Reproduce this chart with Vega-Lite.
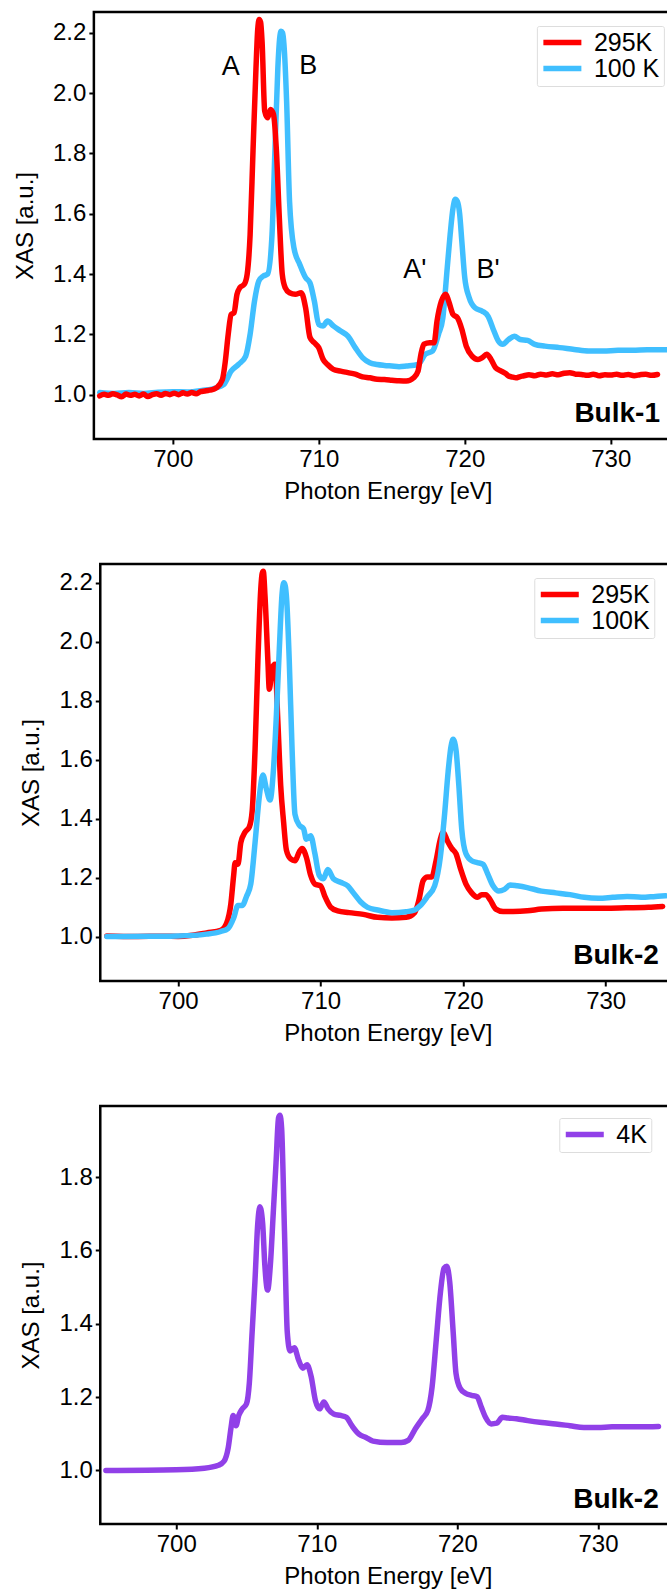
{
  "$schema": "https://vega.github.io/schema/vega-lite/v6.json",
  "padding": {"left": 11.5, "top": 10, "right": 0, "bottom": 0},
  "spacing": 57,
  "center": true,
  "resolve": {"scale": {"x": "independent", "y": "independent", "color": "independent"}},
  "config": {
    "font": "Liberation Sans",
    "view": {"stroke": "#000", "strokeWidth": 2.5},
    "axis": {
      "domain": false, "grid": false, "tickColor": "#000", "tickSize": 5, "tickWidth": 2,
      "labelFont": "Liberation Sans", "labelFontSize": 24, "labelColor": "#000",
      "titleFont": "Liberation Sans", "titleFontSize": 24, "titleFontWeight": "normal", "titleColor": "#000"
    },
    "axisX": {"labelPadding": 3, "titlePadding": 8},
    "axisY": {"labelPadding": 3, "titlePadding": 15},
    "legend": {
      "symbolType": "M-2,0H2", "symbolSize": 361, "symbolStrokeWidth": 5.5,
      "labelFont": "Liberation Sans", "labelFontSize": 25, "labelColor": "#000",
      "strokeColor": "#dddddd", "fillColor": "#ffffff", "padding": 4, "cornerRadius": 2,
      "rowPadding": 0, "labelOffset": 19, "symbolOffset": 9
    },
    "line": {"strokeWidth": 5.5, "strokeJoin": "round", "strokeCap": "round", "interpolate": "monotone"},
    "text": {"font": "Liberation Sans", "color": "#000"}
  },
  "datasets": {
    "bulk1": [
      {"T": "100 K", "E": 695.0, "v": 1.007}, {"T": "100 K", "E": 696.0, "v": 1.004}, {"T": "100 K", "E": 697.0, "v": 1.007},
      {"T": "100 K", "E": 698.0, "v": 1.004}, {"T": "100 K", "E": 699.0, "v": 1.008}, {"T": "100 K", "E": 700.0, "v": 1.01},
      {"T": "100 K", "E": 701.0, "v": 1.009}, {"T": "100 K", "E": 702.0, "v": 1.014}, {"T": "100 K", "E": 703.0, "v": 1.023},
      {"T": "100 K", "E": 703.5, "v": 1.034}, {"T": "100 K", "E": 704.0, "v": 1.078}, {"T": "100 K", "E": 704.5, "v": 1.1},
      {"T": "100 K", "E": 705.0, "v": 1.128}, {"T": "100 K", "E": 705.3, "v": 1.2}, {"T": "100 K", "E": 705.6, "v": 1.31},
      {"T": "100 K", "E": 705.9, "v": 1.377}, {"T": "100 K", "E": 706.2, "v": 1.393}, {"T": "100 K", "E": 706.5, "v": 1.4},
      {"T": "100 K", "E": 706.8, "v": 1.531}, {"T": "100 K", "E": 707.0, "v": 1.81}, {"T": "100 K", "E": 707.2, "v": 2.084},
      {"T": "100 K", "E": 707.32, "v": 2.18}, {"T": "100 K", "E": 707.42, "v": 2.205}, {"T": "100 K", "E": 707.52, "v": 2.2},
      {"T": "100 K", "E": 707.62, "v": 2.16}, {"T": "100 K", "E": 707.8, "v": 1.973},
      {"T": "100 K", "E": 708.0, "v": 1.642}, {"T": "100 K", "E": 708.3, "v": 1.487}, {"T": "100 K", "E": 708.7, "v": 1.432},
      {"T": "100 K", "E": 709.1, "v": 1.388}, {"T": "100 K", "E": 709.4, "v": 1.371}, {"T": "100 K", "E": 709.7, "v": 1.31},
      {"T": "100 K", "E": 710.0, "v": 1.233}, {"T": "100 K", "E": 710.3, "v": 1.228}, {"T": "100 K", "E": 710.6, "v": 1.244},
      {"T": "100 K", "E": 711.0, "v": 1.228}, {"T": "100 K", "E": 711.5, "v": 1.211}, {"T": "100 K", "E": 712.0, "v": 1.194},
      {"T": "100 K", "E": 712.5, "v": 1.156}, {"T": "100 K", "E": 713.0, "v": 1.123}, {"T": "100 K", "E": 713.5, "v": 1.106},
      {"T": "100 K", "E": 714.0, "v": 1.1}, {"T": "100 K", "E": 714.5, "v": 1.097}, {"T": "100 K", "E": 715.0, "v": 1.095},
      {"T": "100 K", "E": 715.5, "v": 1.093}, {"T": "100 K", "E": 716.0, "v": 1.095},
      {"T": "100 K", "E": 716.8, "v": 1.1}, {"T": "100 K", "E": 717.3, "v": 1.134}, {"T": "100 K", "E": 717.8, "v": 1.145},
      {"T": "100 K", "E": 718.2, "v": 1.2}, {"T": "100 K", "E": 718.5, "v": 1.255}, {"T": "100 K", "E": 718.8, "v": 1.42},
      {"T": "100 K", "E": 719.0, "v": 1.531}, {"T": "100 K", "E": 719.2, "v": 1.62}, {"T": "100 K", "E": 719.35, "v": 1.648},
      {"T": "100 K", "E": 719.5, "v": 1.64}, {"T": "100 K", "E": 719.65, "v": 1.6}, {"T": "100 K", "E": 719.8, "v": 1.509}, {"T": "100 K", "E": 720.0, "v": 1.388},
      {"T": "100 K", "E": 720.3, "v": 1.322}, {"T": "100 K", "E": 720.7, "v": 1.288}, {"T": "100 K", "E": 721.2, "v": 1.277},
      {"T": "100 K", "E": 721.6, "v": 1.26}, {"T": "100 K", "E": 722.0, "v": 1.211}, {"T": "100 K", "E": 722.3, "v": 1.178},
      {"T": "100 K", "E": 722.6, "v": 1.167}, {"T": "100 K", "E": 723.0, "v": 1.183}, {"T": "100 K", "E": 723.4, "v": 1.194},
      {"T": "100 K", "E": 723.8, "v": 1.183}, {"T": "100 K", "E": 724.3, "v": 1.18}, {"T": "100 K", "E": 724.8, "v": 1.167},
      {"T": "100 K", "E": 725.5, "v": 1.161}, {"T": "100 K", "E": 726.5, "v": 1.156}, {"T": "100 K", "E": 727.5, "v": 1.15},
      {"T": "100 K", "E": 728.5, "v": 1.145}, {"T": "100 K", "E": 729.5, "v": 1.145}, {"T": "100 K", "E": 730.5, "v": 1.147},
      {"T": "100 K", "E": 731.5, "v": 1.147}, {"T": "100 K", "E": 732.5, "v": 1.149}, {"T": "100 K", "E": 733.9, "v": 1.149},

      {"T": "295K", "E": 695.0, "v": 0.996}, {"T": "295K", "E": 695.3, "v": 1.001}, {"T": "295K", "E": 695.6, "v": 0.998},
      {"T": "295K", "E": 695.9, "v": 1.003}, {"T": "295K", "E": 696.2, "v": 0.999}, {"T": "295K", "E": 696.5, "v": 0.993},
      {"T": "295K", "E": 696.8, "v": 1.002}, {"T": "295K", "E": 697.1, "v": 0.998}, {"T": "295K", "E": 697.4, "v": 1.001},
      {"T": "295K", "E": 697.7, "v": 0.996}, {"T": "295K", "E": 698.0, "v": 1.002}, {"T": "295K", "E": 698.3, "v": 0.994},
      {"T": "295K", "E": 698.6, "v": 1.0}, {"T": "295K", "E": 698.9, "v": 1.003}, {"T": "295K", "E": 699.2, "v": 0.998},
      {"T": "295K", "E": 699.5, "v": 1.004}, {"T": "295K", "E": 699.8, "v": 1.0}, {"T": "295K", "E": 700.1, "v": 1.005},
      {"T": "295K", "E": 700.4, "v": 1.0}, {"T": "295K", "E": 700.7, "v": 1.006}, {"T": "295K", "E": 701.0, "v": 1.002},
      {"T": "295K", "E": 701.3, "v": 1.007}, {"T": "295K", "E": 701.6, "v": 1.003}, {"T": "295K", "E": 701.9, "v": 1.01},
      {"T": "295K", "E": 702.2, "v": 1.012}, {"T": "295K", "E": 702.5, "v": 1.015}, {"T": "295K", "E": 702.8, "v": 1.018},
      {"T": "295K", "E": 703.0, "v": 1.023}, {"T": "295K", "E": 703.4, "v": 1.05}, {"T": "295K", "E": 703.6, "v": 1.11},
      {"T": "295K", "E": 703.8, "v": 1.2}, {"T": "295K", "E": 704.0, "v": 1.266}, {"T": "295K", "E": 704.2, "v": 1.272},
      {"T": "295K", "E": 704.4, "v": 1.333}, {"T": "295K", "E": 704.6, "v": 1.355}, {"T": "295K", "E": 704.9, "v": 1.366},
      {"T": "295K", "E": 705.1, "v": 1.4}, {"T": "295K", "E": 705.3, "v": 1.53}, {"T": "295K", "E": 705.5, "v": 1.81},
      {"T": "295K", "E": 705.7, "v": 2.08}, {"T": "295K", "E": 705.82, "v": 2.21}, {"T": "295K", "E": 705.92, "v": 2.244},
      {"T": "295K", "E": 706.02, "v": 2.235}, {"T": "295K", "E": 706.12, "v": 2.17},
      {"T": "295K", "E": 706.3, "v": 1.94}, {"T": "295K", "E": 706.5, "v": 1.918}, {"T": "295K", "E": 706.7, "v": 1.946},
      {"T": "295K", "E": 706.9, "v": 1.93}, {"T": "295K", "E": 707.1, "v": 1.81}, {"T": "295K", "E": 707.3, "v": 1.587},
      {"T": "295K", "E": 707.5, "v": 1.4}, {"T": "295K", "E": 707.7, "v": 1.355}, {"T": "295K", "E": 708.0, "v": 1.338},
      {"T": "295K", "E": 708.4, "v": 1.333}, {"T": "295K", "E": 708.8, "v": 1.338}, {"T": "295K", "E": 709.1, "v": 1.288},
      {"T": "295K", "E": 709.4, "v": 1.19}, {"T": "295K", "E": 709.7, "v": 1.172}, {"T": "295K", "E": 710.0, "v": 1.156},
      {"T": "295K", "E": 710.3, "v": 1.117}, {"T": "295K", "E": 710.6, "v": 1.1}, {"T": "295K", "E": 711.0, "v": 1.084},
      {"T": "295K", "E": 711.5, "v": 1.078}, {"T": "295K", "E": 712.0, "v": 1.073}, {"T": "295K", "E": 712.5, "v": 1.068},
      {"T": "295K", "E": 713.0, "v": 1.059}, {"T": "295K", "E": 713.5, "v": 1.056}, {"T": "295K", "E": 714.0, "v": 1.051},
      {"T": "295K", "E": 714.5, "v": 1.05}, {"T": "295K", "E": 715.0, "v": 1.048}, {"T": "295K", "E": 715.5, "v": 1.046},
      {"T": "295K", "E": 716.0, "v": 1.045}, {"T": "295K", "E": 716.5, "v": 1.056}, {"T": "295K", "E": 716.8, "v": 1.078},
      {"T": "295K", "E": 717.0, "v": 1.134}, {"T": "295K", "E": 717.2, "v": 1.167}, {"T": "295K", "E": 717.6, "v": 1.172},
      {"T": "295K", "E": 717.9, "v": 1.172}, {"T": "295K", "E": 718.1, "v": 1.244}, {"T": "295K", "E": 718.4, "v": 1.31},
      {"T": "295K", "E": 718.7, "v": 1.333}, {"T": "295K", "E": 718.9, "v": 1.31}, {"T": "295K", "E": 719.2, "v": 1.266},
      {"T": "295K", "E": 719.5, "v": 1.255}, {"T": "295K", "E": 719.8, "v": 1.217}, {"T": "295K", "E": 720.1, "v": 1.161},
      {"T": "295K", "E": 720.5, "v": 1.128}, {"T": "295K", "E": 720.9, "v": 1.117}, {"T": "295K", "E": 721.2, "v": 1.123},
      {"T": "295K", "E": 721.5, "v": 1.134}, {"T": "295K", "E": 721.8, "v": 1.117}, {"T": "295K", "E": 722.1, "v": 1.09},
      {"T": "295K", "E": 722.5, "v": 1.078}, {"T": "295K", "E": 722.8, "v": 1.07}, {"T": "295K", "E": 723.0, "v": 1.062},
      {"T": "295K", "E": 723.3, "v": 1.058}, {"T": "295K", "E": 723.5, "v": 1.056}, {"T": "295K", "E": 723.8, "v": 1.06},
      {"T": "295K", "E": 724.0, "v": 1.062}, {"T": "295K", "E": 724.4, "v": 1.066}, {"T": "295K", "E": 724.8, "v": 1.063},
      {"T": "295K", "E": 725.2, "v": 1.068}, {"T": "295K", "E": 725.6, "v": 1.065}, {"T": "295K", "E": 726.0, "v": 1.069},
      {"T": "295K", "E": 726.4, "v": 1.066}, {"T": "295K", "E": 726.8, "v": 1.071}, {"T": "295K", "E": 727.2, "v": 1.073},
      {"T": "295K", "E": 727.6, "v": 1.068}, {"T": "295K", "E": 728.0, "v": 1.067}, {"T": "295K", "E": 728.4, "v": 1.064},
      {"T": "295K", "E": 728.8, "v": 1.068}, {"T": "295K", "E": 729.2, "v": 1.063}, {"T": "295K", "E": 729.6, "v": 1.066},
      {"T": "295K", "E": 730.0, "v": 1.065}, {"T": "295K", "E": 730.4, "v": 1.068}, {"T": "295K", "E": 730.8, "v": 1.064},
      {"T": "295K", "E": 731.2, "v": 1.067}, {"T": "295K", "E": 731.6, "v": 1.063}, {"T": "295K", "E": 732.0, "v": 1.066},
      {"T": "295K", "E": 732.4, "v": 1.068}, {"T": "295K", "E": 732.8, "v": 1.064}, {"T": "295K", "E": 733.2, "v": 1.067}
    ],
    "bulk2": [
      {"T": "295K", "E": 695.0, "v": 1.002}, {"T": "295K", "E": 697.0, "v": 1.0}, {"T": "295K", "E": 699.0, "v": 1.001},
      {"T": "295K", "E": 700.0, "v": 1.0}, {"T": "295K", "E": 701.0, "v": 1.004}, {"T": "295K", "E": 702.0, "v": 1.012},
      {"T": "295K", "E": 703.0, "v": 1.021}, {"T": "295K", "E": 703.4, "v": 1.045}, {"T": "295K", "E": 703.7, "v": 1.11},
      {"T": "295K", "E": 703.9, "v": 1.208}, {"T": "295K", "E": 704.0, "v": 1.25}, {"T": "295K", "E": 704.2, "v": 1.245},
      {"T": "295K", "E": 704.4, "v": 1.318}, {"T": "295K", "E": 704.7, "v": 1.354}, {"T": "295K", "E": 705.0, "v": 1.372},
      {"T": "295K", "E": 705.2, "v": 1.427}, {"T": "295K", "E": 705.4, "v": 1.633}, {"T": "295K", "E": 705.6, "v": 1.936},
      {"T": "295K", "E": 705.8, "v": 2.178}, {"T": "295K", "E": 705.9, "v": 2.232}, {"T": "295K", "E": 705.98, "v": 2.239},
      {"T": "295K", "E": 706.1, "v": 2.154},
      {"T": "295K", "E": 706.3, "v": 1.936}, {"T": "295K", "E": 706.4, "v": 1.839}, {"T": "295K", "E": 706.6, "v": 1.91},
      {"T": "295K", "E": 706.8, "v": 1.924}, {"T": "295K", "E": 707.0, "v": 1.73}, {"T": "295K", "E": 707.2, "v": 1.512},
      {"T": "295K", "E": 707.4, "v": 1.39}, {"T": "295K", "E": 707.6, "v": 1.293}, {"T": "295K", "E": 707.9, "v": 1.263},
      {"T": "295K", "E": 708.2, "v": 1.257}, {"T": "295K", "E": 708.5, "v": 1.287}, {"T": "295K", "E": 708.7, "v": 1.299},
      {"T": "295K", "E": 709.0, "v": 1.269}, {"T": "295K", "E": 709.3, "v": 1.208}, {"T": "295K", "E": 709.6, "v": 1.178},
      {"T": "295K", "E": 710.0, "v": 1.172}, {"T": "295K", "E": 710.3, "v": 1.136}, {"T": "295K", "E": 710.7, "v": 1.1},
      {"T": "295K", "E": 711.2, "v": 1.087}, {"T": "295K", "E": 712.0, "v": 1.081}, {"T": "295K", "E": 713.0, "v": 1.075},
      {"T": "295K", "E": 714.0, "v": 1.065}, {"T": "295K", "E": 715.0, "v": 1.063}, {"T": "295K", "E": 716.0, "v": 1.065},
      {"T": "295K", "E": 716.6, "v": 1.081}, {"T": "295K", "E": 716.9, "v": 1.124}, {"T": "295K", "E": 717.2, "v": 1.19},
      {"T": "295K", "E": 717.5, "v": 1.202}, {"T": "295K", "E": 717.8, "v": 1.202}, {"T": "295K", "E": 718.1, "v": 1.257},
      {"T": "295K", "E": 718.4, "v": 1.33}, {"T": "295K", "E": 718.6, "v": 1.354}, {"T": "295K", "E": 718.9, "v": 1.324},
      {"T": "295K", "E": 719.2, "v": 1.299}, {"T": "295K", "E": 719.5, "v": 1.281}, {"T": "295K", "E": 719.8, "v": 1.233},
      {"T": "295K", "E": 720.2, "v": 1.178}, {"T": "295K", "E": 720.6, "v": 1.148}, {"T": "295K", "E": 721.0, "v": 1.133},
      {"T": "295K", "E": 721.3, "v": 1.142}, {"T": "295K", "E": 721.6, "v": 1.142}, {"T": "295K", "E": 721.9, "v": 1.124},
      {"T": "295K", "E": 722.3, "v": 1.093}, {"T": "295K", "E": 722.8, "v": 1.085}, {"T": "295K", "E": 723.5, "v": 1.085},
      {"T": "295K", "E": 724.5, "v": 1.087}, {"T": "295K", "E": 725.5, "v": 1.093}, {"T": "295K", "E": 727.0, "v": 1.096},
      {"T": "295K", "E": 729.0, "v": 1.096}, {"T": "295K", "E": 731.0, "v": 1.097}, {"T": "295K", "E": 733.0, "v": 1.099},
      {"T": "295K", "E": 734.0, "v": 1.102},

      {"T": "100K", "E": 695.0, "v": 1.0}, {"T": "100K", "E": 698.0, "v": 1.001}, {"T": "100K", "E": 700.0, "v": 1.002},
      {"T": "100K", "E": 702.0, "v": 1.008}, {"T": "100K", "E": 703.0, "v": 1.017}, {"T": "100K", "E": 703.5, "v": 1.027},
      {"T": "100K", "E": 703.9, "v": 1.063}, {"T": "100K", "E": 704.2, "v": 1.105}, {"T": "100K", "E": 704.5, "v": 1.105},
      {"T": "100K", "E": 704.8, "v": 1.136}, {"T": "100K", "E": 705.1, "v": 1.178}, {"T": "100K", "E": 705.4, "v": 1.318},
      {"T": "100K", "E": 705.7, "v": 1.475}, {"T": "100K", "E": 705.95, "v": 1.548}, {"T": "100K", "E": 706.2, "v": 1.5},
      {"T": "100K", "E": 706.45, "v": 1.463}, {"T": "100K", "E": 706.7, "v": 1.572}, {"T": "100K", "E": 706.9, "v": 1.754},
      {"T": "100K", "E": 707.1, "v": 1.972}, {"T": "100K", "E": 707.3, "v": 2.166}, {"T": "100K", "E": 707.42, "v": 2.2},
      {"T": "100K", "E": 707.52, "v": 2.19}, {"T": "100K", "E": 707.62, "v": 2.142}, {"T": "100K", "E": 707.8, "v": 1.936}, {"T": "100K", "E": 708.0, "v": 1.633},
      {"T": "100K", "E": 708.2, "v": 1.415}, {"T": "100K", "E": 708.5, "v": 1.378}, {"T": "100K", "E": 708.8, "v": 1.366},
      {"T": "100K", "E": 709.0, "v": 1.33}, {"T": "100K", "E": 709.3, "v": 1.342}, {"T": "100K", "E": 709.6, "v": 1.281},
      {"T": "100K", "E": 709.9, "v": 1.208}, {"T": "100K", "E": 710.2, "v": 1.196}, {"T": "100K", "E": 710.5, "v": 1.227},
      {"T": "100K", "E": 710.9, "v": 1.196}, {"T": "100K", "E": 711.4, "v": 1.184}, {"T": "100K", "E": 711.9, "v": 1.172},
      {"T": "100K", "E": 712.3, "v": 1.148}, {"T": "100K", "E": 712.8, "v": 1.118}, {"T": "100K", "E": 713.3, "v": 1.099},
      {"T": "100K", "E": 714.0, "v": 1.09}, {"T": "100K", "E": 715.0, "v": 1.081}, {"T": "100K", "E": 716.0, "v": 1.084},
      {"T": "100K", "E": 716.6, "v": 1.09}, {"T": "100K", "E": 717.0, "v": 1.105}, {"T": "100K", "E": 717.5, "v": 1.136},
      {"T": "100K", "E": 718.0, "v": 1.172}, {"T": "100K", "E": 718.4, "v": 1.269}, {"T": "100K", "E": 718.7, "v": 1.415},
      {"T": "100K", "E": 718.95, "v": 1.56}, {"T": "100K", "E": 719.15, "v": 1.645}, {"T": "100K", "E": 719.3, "v": 1.669},
      {"T": "100K", "E": 719.5, "v": 1.633}, {"T": "100K", "E": 719.7, "v": 1.512}, {"T": "100K", "E": 719.9, "v": 1.366},
      {"T": "100K", "E": 720.2, "v": 1.281}, {"T": "100K", "E": 720.6, "v": 1.257}, {"T": "100K", "E": 721.0, "v": 1.251},
      {"T": "100K", "E": 721.4, "v": 1.245}, {"T": "100K", "E": 721.7, "v": 1.215}, {"T": "100K", "E": 722.1, "v": 1.172},
      {"T": "100K", "E": 722.5, "v": 1.154}, {"T": "100K", "E": 722.9, "v": 1.16}, {"T": "100K", "E": 723.3, "v": 1.175},
      {"T": "100K", "E": 723.8, "v": 1.172}, {"T": "100K", "E": 724.5, "v": 1.166}, {"T": "100K", "E": 725.5, "v": 1.154},
      {"T": "100K", "E": 726.5, "v": 1.148}, {"T": "100K", "E": 727.5, "v": 1.142}, {"T": "100K", "E": 728.5, "v": 1.133},
      {"T": "100K", "E": 729.5, "v": 1.13}, {"T": "100K", "E": 730.5, "v": 1.133}, {"T": "100K", "E": 731.5, "v": 1.136},
      {"T": "100K", "E": 732.5, "v": 1.133}, {"T": "100K", "E": 733.5, "v": 1.136}, {"T": "100K", "E": 734.2, "v": 1.138}
    ],
    "bulk2cold": [
      {"T": "4K", "E": 695.0, "v": 1.0}, {"T": "4K", "E": 700.0, "v": 1.002}, {"T": "4K", "E": 702.0, "v": 1.006},
      {"T": "4K", "E": 703.0, "v": 1.014}, {"T": "4K", "E": 703.4, "v": 1.025}, {"T": "4K", "E": 703.7, "v": 1.062},
      {"T": "4K", "E": 703.9, "v": 1.117}, {"T": "4K", "E": 704.05, "v": 1.15}, {"T": "4K", "E": 704.25, "v": 1.122},
      {"T": "4K", "E": 704.45, "v": 1.15}, {"T": "4K", "E": 704.7, "v": 1.168}, {"T": "4K", "E": 705.0, "v": 1.182},
      {"T": "4K", "E": 705.2, "v": 1.238}, {"T": "4K", "E": 705.4, "v": 1.377}, {"T": "4K", "E": 705.6, "v": 1.515},
      {"T": "4K", "E": 705.8, "v": 1.673}, {"T": "4K", "E": 705.95, "v": 1.719}, {"T": "4K", "E": 706.15, "v": 1.673},
      {"T": "4K", "E": 706.3, "v": 1.562}, {"T": "4K", "E": 706.5, "v": 1.492}, {"T": "4K", "E": 706.7, "v": 1.562},
      {"T": "4K", "E": 706.9, "v": 1.7}, {"T": "4K", "E": 707.1, "v": 1.839}, {"T": "4K", "E": 707.28, "v": 1.962},
      {"T": "4K", "E": 707.38, "v": 1.969}, {"T": "4K", "E": 707.5, "v": 1.932}, {"T": "4K", "E": 707.7, "v": 1.654}, {"T": "4K", "E": 707.9, "v": 1.377},
      {"T": "4K", "E": 708.1, "v": 1.326}, {"T": "4K", "E": 708.4, "v": 1.335}, {"T": "4K", "E": 708.7, "v": 1.302},
      {"T": "4K", "E": 709.0, "v": 1.279}, {"T": "4K", "E": 709.3, "v": 1.288}, {"T": "4K", "E": 709.6, "v": 1.256},
      {"T": "4K", "E": 709.9, "v": 1.191}, {"T": "4K", "E": 710.2, "v": 1.168}, {"T": "4K", "E": 710.5, "v": 1.187},
      {"T": "4K", "E": 710.8, "v": 1.168}, {"T": "4K", "E": 711.2, "v": 1.154}, {"T": "4K", "E": 711.7, "v": 1.15},
      {"T": "4K", "E": 712.1, "v": 1.145}, {"T": "4K", "E": 712.5, "v": 1.122}, {"T": "4K", "E": 713.0, "v": 1.099},
      {"T": "4K", "E": 713.5, "v": 1.09}, {"T": "4K", "E": 714.0, "v": 1.08}, {"T": "4K", "E": 715.0, "v": 1.076},
      {"T": "4K", "E": 716.0, "v": 1.076}, {"T": "4K", "E": 716.5, "v": 1.082}, {"T": "4K", "E": 717.0, "v": 1.113},
      {"T": "4K", "E": 717.5, "v": 1.141}, {"T": "4K", "E": 717.9, "v": 1.164}, {"T": "4K", "E": 718.2, "v": 1.228},
      {"T": "4K", "E": 718.5, "v": 1.358}, {"T": "4K", "E": 718.8, "v": 1.488}, {"T": "4K", "E": 719.05, "v": 1.552},
      {"T": "4K", "E": 719.25, "v": 1.557}, {"T": "4K", "E": 719.45, "v": 1.515}, {"T": "4K", "E": 719.7, "v": 1.377},
      {"T": "4K", "E": 719.9, "v": 1.265}, {"T": "4K", "E": 720.2, "v": 1.224}, {"T": "4K", "E": 720.6, "v": 1.21},
      {"T": "4K", "E": 721.0, "v": 1.205}, {"T": "4K", "E": 721.4, "v": 1.201}, {"T": "4K", "E": 721.7, "v": 1.173},
      {"T": "4K", "E": 722.0, "v": 1.145}, {"T": "4K", "E": 722.4, "v": 1.127}, {"T": "4K", "E": 722.8, "v": 1.129},
      {"T": "4K", "E": 723.2, "v": 1.145}, {"T": "4K", "E": 723.6, "v": 1.143}, {"T": "4K", "E": 724.2, "v": 1.141},
      {"T": "4K", "E": 725.0, "v": 1.136}, {"T": "4K", "E": 726.0, "v": 1.131}, {"T": "4K", "E": 727.0, "v": 1.127},
      {"T": "4K", "E": 728.0, "v": 1.122}, {"T": "4K", "E": 729.0, "v": 1.117}, {"T": "4K", "E": 730.0, "v": 1.117},
      {"T": "4K", "E": 731.0, "v": 1.119}, {"T": "4K", "E": 732.0, "v": 1.119}, {"T": "4K", "E": 733.0, "v": 1.119},
      {"T": "4K", "E": 734.3, "v": 1.12}
    ],
    "peaks1": [
      {"E": 703.35, "v": 2.06, "label": "A"},
      {"E": 708.67, "v": 2.063, "label": "B"},
      {"E": 715.79, "v": 1.387, "label": "A'"},
      {"E": 720.8, "v": 1.387, "label": "B'"}
    ],
    "tag1": [{"E": 733.37, "v": 0.909, "label": "Bulk-1"}],
    "tag2": [{"E": 733.73, "v": 0.906, "label": "Bulk-2"}],
    "tag3": [{"E": 734.32, "v": 0.897, "label": "Bulk-2"}]
  },
  "vconcat": [
    {
      "width": 588,
      "height": 427,
      "encoding": {
        "x": {"field": "E", "type": "quantitative", "scale": {"domain": [694.6, 734.87], "nice": false, "zero": false},
              "axis": {"title": "Photon Energy [eV]", "values": [700, 710, 720, 730]}},
        "y": {"field": "v", "type": "quantitative", "scale": {"domain": [0.853, 2.269], "nice": false, "zero": false},
              "axis": {"title": "XAS [a.u.]", "values": [1, 1.2, 1.4, 1.6, 1.8, 2, 2.2], "format": ".1f"}}
      },
      "layer": [
        {"data": {"name": "bulk1"}, "transform": [{"filter": "datum.T === '100 K'"}], "mark": "line",
         "encoding": {"color": {"field": "T", "type": "nominal",
           "scale": {"domain": ["295K", "100 K"], "range": ["#ff0000", "#40bfff"]},
           "legend": {"title": null, "orient": "none", "legendX": 443, "legendY": 14}}}},
        {"data": {"name": "bulk1"}, "transform": [{"filter": "datum.T === '295K'"}], "mark": "line",
         "encoding": {"color": {"field": "T", "type": "nominal",
           "scale": {"domain": ["295K", "100 K"], "range": ["#ff0000", "#40bfff"]},
           "legend": {"title": null, "orient": "none", "legendX": 443, "legendY": 14}}}},
        {"data": {"name": "peaks1"}, "mark": {"type": "text", "align": "left", "baseline": "alphabetic", "fontSize": 27},
         "encoding": {"text": {"field": "label"}}},
        {"data": {"name": "tag1"}, "mark": {"type": "text", "align": "right", "baseline": "alphabetic", "fontSize": 28, "fontWeight": "bold"},
         "encoding": {"text": {"field": "label"}}}
      ]
    },
    {
      "width": 575.2,
      "height": 417,
      "encoding": {
        "x": {"field": "E", "type": "quantitative", "scale": {"domain": [694.54, 734.9], "nice": false, "zero": false},
              "axis": {"title": "Photon Energy [eV]", "values": [700, 710, 720, 730]}},
        "y": {"field": "v", "type": "quantitative", "scale": {"domain": [0.849, 2.264], "nice": false, "zero": false},
              "axis": {"title": "XAS [a.u.]", "values": [1, 1.2, 1.4, 1.6, 1.8, 2, 2.2], "format": ".1f"}}
      },
      "layer": [
        {"data": {"name": "bulk2"}, "transform": [{"filter": "datum.T === '295K'"}], "mark": "line",
         "encoding": {"color": {"field": "T", "type": "nominal",
           "scale": {"domain": ["295K", "100K"], "range": ["#ff0000", "#40bfff"]},
           "legend": {"title": null, "orient": "none", "legendX": 434, "legendY": 14}}}},
        {"data": {"name": "bulk2"}, "transform": [{"filter": "datum.T === '100K'"}], "mark": "line",
         "encoding": {"color": {"field": "T", "type": "nominal",
           "scale": {"domain": ["295K", "100K"], "range": ["#ff0000", "#40bfff"]},
           "legend": {"title": null, "orient": "none", "legendX": 434, "legendY": 14}}}},
        {"data": {"name": "tag2"}, "mark": {"type": "text", "align": "right", "baseline": "alphabetic", "fontSize": 28, "fontWeight": "bold"},
         "encoding": {"text": {"field": "label"}}}
      ]
    },
    {
      "width": 575.2,
      "height": 418,
      "encoding": {
        "x": {"field": "E", "type": "quantitative", "scale": {"domain": [694.6, 735.51], "nice": false, "zero": false},
              "axis": {"title": "Photon Energy [eV]", "values": [700, 710, 720, 730]}},
        "y": {"field": "v", "type": "quantitative", "scale": {"domain": [0.854, 1.994], "nice": false, "zero": false},
              "axis": {"title": "XAS [a.u.]", "values": [1, 1.2, 1.4, 1.6, 1.8], "format": ".1f"}}
      },
      "layer": [
        {"data": {"name": "bulk2cold"}, "mark": "line",
         "encoding": {"color": {"field": "T", "type": "nominal",
           "scale": {"domain": ["4K"], "range": ["#9140e8"]},
           "legend": {"title": null, "orient": "none", "legendX": 459, "legendY": 12}}}},
        {"data": {"name": "tag3"}, "mark": {"type": "text", "align": "right", "baseline": "alphabetic", "fontSize": 28, "fontWeight": "bold"},
         "encoding": {"text": {"field": "label"}}}
      ]
    }
  ]
}
